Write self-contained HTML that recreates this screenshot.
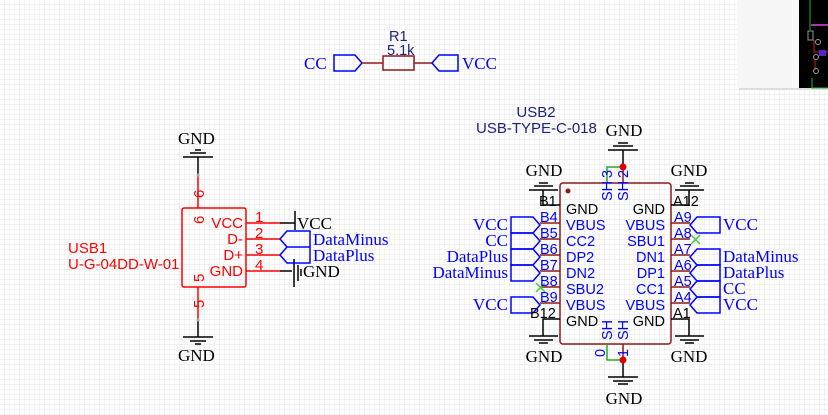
<!DOCTYPE html>
<html><head><meta charset="utf-8"><style>
html,body{margin:0;padding:0;background:#fff}
svg{display:block}
.s{font-family:"Liberation Serif",serif}
.a{font-family:"Liberation Sans",sans-serif}
</style></head><body>
<svg width="828" height="415" viewBox="0 0 828 415" xmlns="http://www.w3.org/2000/svg">
<defs>
<pattern id="g" width="5" height="5" patternUnits="userSpaceOnUse"><path d="M5 0V5H0" fill="none" stroke="#e6e6e6" stroke-width="1"/></pattern>
</defs>
<rect width="828" height="415" fill="#fff"/>
<rect width="828" height="415" fill="url(#g)"/>
<!-- top-right panel -->
<rect x="739" y="2" width="89" height="88" fill="#ddd"/>
<rect x="737" y="0" width="91" height="88" fill="#f7f7f7"/>
<rect x="799" y="0" width="29" height="88" fill="#000"/>
<path d="M810 0V30 M812 78V88H828" stroke="#3a3" fill="none"/>
<path d="M811 25H828" stroke="#a3a" stroke-width="2"/>
<path d="M814 40V52H828 M815 60V70" stroke="#c22" fill="none"/>
<rect x="808" y="31" width="5" height="9" fill="none" stroke="#999"/>
<circle cx="818" cy="42" r="2.5" fill="none" stroke="#999"/><circle cx="816" cy="57" r="2.5" fill="none" stroke="#999"/><circle cx="816" cy="71" r="2.5" fill="none" stroke="#999"/>
<rect x="819" y="50" width="7" height="6" fill="#52c"/>

<!-- R1 -->
<g class="a" fill="#1a237e" font-size="14.5"><text x="389" y="41">R1</text><text x="387" y="55">5.1k</text></g>
<path d="M334 55H355L362 63L355 71H334Z" fill="none" stroke="#00f" stroke-width="1.5"/>
<path d="M362 63H383M414 63H432" stroke="#8b1a1a" stroke-width="1.5"/>
<rect x="383" y="56" width="31" height="14" fill="none" stroke="#8b1a1a" stroke-width="1.5"/>
<path d="M458 55H439L432 63L439 71H458Z" fill="none" stroke="#00f" stroke-width="1.5"/>
<g class="s" fill="#00f" font-size="17"><text x="304" y="69">CC</text><text x="462" y="69">VCC</text></g>

<!-- USB1 -->
<g class="a" fill="#f00" font-size="15"><text x="68" y="253">USB1</text><text x="68" y="269">U-G-04DD-W-01</text></g>
<rect x="182" y="208" width="64" height="79" rx="2" fill="none" stroke="#f00" stroke-width="1.5"/>
<path d="M198 208V175M198 287V320M246 223H280M246 239H280M246 255H280M246 271H280" stroke="#f00" stroke-width="1.5"/>
<path d="M198 175V157M198 320V337M280 223H295M280 271H292" stroke="#000" stroke-width="1.5"/>
<g stroke="#000" stroke-width="1.5">
<path d="M183 157H213M190 153H206M195 150H201"/>
<path d="M183 337H213M190 341H206M195 344H201"/>
<path d="M295 211V230"/>
<path d="M294 259V287M298 265V281M301 269V276"/>
</g>
<g fill="#000"><circle cx="198" cy="175" r="1.5" fill="#aaa"/><circle cx="198" cy="320" r="1.5" fill="#aaa"/></g>
<path d="M280 239L287 231H310V247H287Z M280 255L287 247H310V263H287Z" fill="none" stroke="#00f" stroke-width="1.5"/>
<g class="a" fill="#f00" font-size="15">
<text x="243" y="228" text-anchor="end">VCC</text><text x="243" y="244" text-anchor="end">D-</text><text x="243" y="260" text-anchor="end">D+</text><text x="243" y="276" text-anchor="end">GND</text>
<text x="255" y="222">1</text><text x="255" y="238">2</text><text x="255" y="254">3</text><text x="255" y="270">4</text>
<text transform="translate(204,198) rotate(-90)" x="0" y="0">6</text>
<text transform="translate(204,224) rotate(-90)" x="0" y="0">6</text>
<text transform="translate(204,282) rotate(-90)" x="0" y="0">5</text>
<text transform="translate(204,308) rotate(-90)" x="0" y="0">5</text>
</g>
<g class="s" font-size="17">
<text x="178" y="144" fill="#000">GND</text><text x="178" y="361" fill="#000">GND</text>
<text x="297" y="229" fill="#000">VCC</text><text x="303" y="277" fill="#000">GND</text>
<text x="313" y="245" fill="#00f">DataMinus</text><text x="313" y="261" fill="#00f">DataPlus</text>
</g>

<!-- USB2 -->
<g class="a" fill="#1a237e" font-size="15"><text x="536" y="117" text-anchor="middle">USB2</text><text x="476" y="133">USB-TYPE-C-018</text></g>
<rect x="560" y="183" width="111" height="161" rx="3" fill="none" stroke="#8b1a1a" stroke-width="1.5"/>
<circle cx="568" cy="191" r="2.5" fill="#8b1a1a"/>
<g stroke="#8b1a1a" stroke-width="1.5">
<path d="M540 223H560M540 239H560M540 255H560M540 271H560M540 287H560M540 303H560"/>
<path d="M671 223H690M671 239H690M671 255H690M671 271H690M671 287H690M671 303H690"/>
<path d="M623 167V183M623 344V360"/>
</g>
<g stroke="#000" stroke-width="1.5" fill="none">
<path d="M560 205H543V190M560 319H543V336"/>
<path d="M671 205H689V190M671 319H689V336"/>
<path d="M623 167V150M623 360V377"/>
<path d="M529 190H558M534 186H553M539 183H548"/>
<path d="M675 190H704M680 186H699M685 183H694"/>
<path d="M529 336H558M534 340H553M539 343H548"/>
<path d="M675 336H704M680 340H699M685 343H694"/>
<path d="M608 150H638M613 146H633M618 143H628"/>
<path d="M608 377H638M613 381H633M618 384H628"/>
</g>
<path d="M607 183V167H623M607 344V360H623" fill="none" stroke="#2a2" stroke-width="1.5"/>
<circle cx="623" cy="167" r="3.5" fill="#d00"/><circle cx="623" cy="360" r="3.5" fill="#d00"/>
<path d="M536 283L545 292M545 283L536 292M691 235L700 244M700 235L691 244" stroke="#4c4" stroke-width="1.5"/>
<g fill="none" stroke="#00f" stroke-width="1.5">
<path d="M540 225L533 217H511V233H533Z"/>
<path d="M540 241L533 233H511V249H533Z"/>
<path d="M540 257L533 249H511V265H533Z"/>
<path d="M540 273L533 265H511V281H533Z"/>
<path d="M540 305L533 297H511V313H533Z"/>
<path d="M690 225L697 217H720V233H697Z"/>
<path d="M690 257L697 249H720V265H697Z"/>
<path d="M690 273L697 265H720V281H697Z"/>
<path d="M690 289L697 281H720V297H697Z"/>
<path d="M690 305L697 297H720V313H697Z"/>
</g>
<g class="a" font-size="14.5">
<g fill="#000"><text x="566" y="214">GND</text><text x="566" y="326">GND</text><text x="665" y="214" text-anchor="end">GND</text><text x="665" y="326" text-anchor="end">GND</text>
<text x="539" y="206">B1</text><text x="530" y="318">B12</text><text x="673" y="206">A12</text><text x="673" y="318">A1</text></g>
<g fill="#00f">
<text x="566" y="230">VBUS</text><text x="566" y="246">CC2</text><text x="566" y="262">DP2</text><text x="566" y="278">DN2</text><text x="566" y="294">SBU2</text><text x="566" y="310">VBUS</text>
<text x="665" y="230" text-anchor="end">VBUS</text><text x="665" y="246" text-anchor="end">SBU1</text><text x="665" y="262" text-anchor="end">DN1</text><text x="665" y="278" text-anchor="end">DP1</text><text x="665" y="294" text-anchor="end">CC1</text><text x="665" y="310" text-anchor="end">VBUS</text>
<text x="540" y="222">B4</text><text x="540" y="238">B5</text><text x="540" y="254">B6</text><text x="540" y="270">B7</text><text x="540" y="286">B8</text><text x="540" y="302">B9</text>
<text x="674" y="222">A9</text><text x="674" y="238">A8</text><text x="674" y="254">A7</text><text x="674" y="270">A6</text><text x="674" y="286">A5</text><text x="674" y="302">A4</text>
<text transform="translate(612,201) rotate(-90)">SH</text><text transform="translate(628,201) rotate(-90)">SH</text>
<text transform="translate(612,178) rotate(-90)">3</text><text transform="translate(628,178) rotate(-90)">2</text>
<text transform="translate(612,340) rotate(-90)">SH</text><text transform="translate(628,340) rotate(-90)">SH</text>
<text transform="translate(605,357) rotate(-90)">0</text><text transform="translate(628,357) rotate(-90)">1</text>
</g></g>
<g class="s" font-size="17">
<g fill="#000"><text x="624" y="136" text-anchor="middle">GND</text><text x="624" y="404" text-anchor="middle">GND</text>
<text x="544" y="176" text-anchor="middle">GND</text><text x="689" y="176" text-anchor="middle">GND</text>
<text x="544" y="362" text-anchor="middle">GND</text><text x="689" y="362" text-anchor="middle">GND</text></g>
<g fill="#00f">
<text x="508" y="230" text-anchor="end">VCC</text><text x="508" y="246" text-anchor="end">CC</text><text x="508" y="262" text-anchor="end">DataPlus</text><text x="508" y="278" text-anchor="end">DataMinus</text><text x="508" y="310" text-anchor="end">VCC</text>
<text x="723" y="230">VCC</text><text x="723" y="262">DataMinus</text><text x="723" y="278">DataPlus</text><text x="723" y="294">CC</text><text x="723" y="310">VCC</text>
</g></g>
</svg>
</body></html>
